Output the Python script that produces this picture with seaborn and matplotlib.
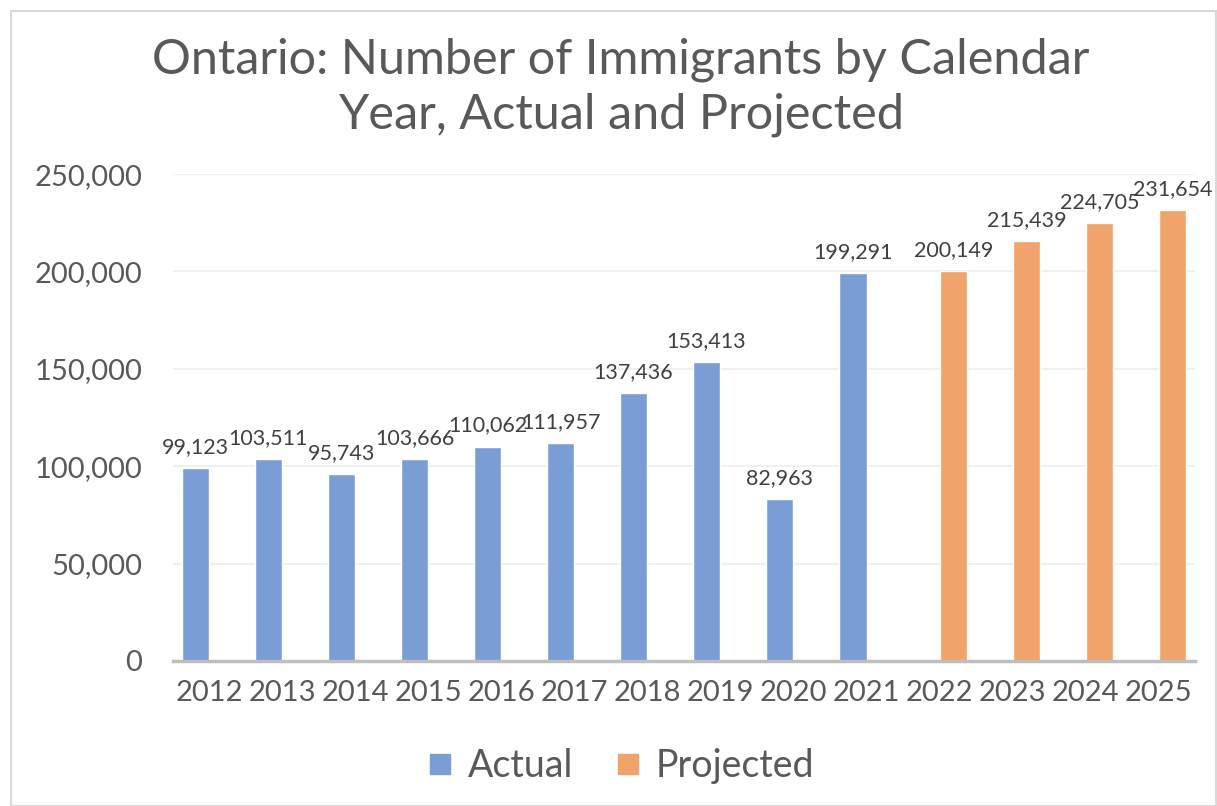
import matplotlib
matplotlib.use("Agg")
import matplotlib.pyplot as plt
import seaborn as sns
import pandas as pd
from matplotlib.patches import Rectangle
from matplotlib.lines import Line2D

years = ["2012", "2013", "2014", "2015", "2016", "2017", "2018", "2019",
         "2020", "2021", "2022", "2023", "2024", "2025"]
actual_years = years[:10]
actual_values = [99123, 103511, 95743, 103666, 110062, 111957, 137436, 153413, 82963, 199291]
projected_years = years[10:]
projected_values = [200149, 215439, 224705, 231654]
series_names = ["Actual", "Projected"]
colors = ["#7A9DD6", "#F0A46C"]
yticks = [0, 50000, 100000, 150000, 200000, 250000]

df = pd.concat([
    pd.DataFrame({"Year": actual_years, "Value": actual_values, "Series": "Actual"}),
    pd.DataFrame({"Year": projected_years, "Value": projected_values, "Series": "Projected"}),
], ignore_index=True)

sns.set_theme(style="white")
plt.rcParams["font.family"] = ["Lato", "DejaVu Sans"]

fig = plt.figure(figsize=(12.17, 8.06), dpi=100)
ax = fig.add_axes([0.142, 0.18, 0.84, 0.604])

sns.barplot(data=df, x="Year", y="Value", hue="Series", order=years,
            hue_order=series_names, palette=colors, width=0.76, dodge=True,
            ax=ax, errorbar=None, saturation=1, legend=False)

for cont in ax.containers:
    vals = [b.get_height() for b in cont]
    ax.bar_label(cont, labels=[f"{v:,.0f}" for v in vals], padding=8,
                 fontsize=15.5, color="#404040")

ax.set_ylim(0, 250000)
ax.set_yticks(yticks)
ax.set_yticklabels([f"{v:,}" for v in yticks])
ax.set_xlim(-0.5, len(years) - 0.5)
ax.yaxis.grid(True, color="#EDEDED", linewidth=1.2)
ax.set_axisbelow(True)
for s in ["top", "right", "left"]:
    ax.spines[s].set_visible(False)
ax.spines["bottom"].set_color("#BFBFBF")
ax.spines["bottom"].set_linewidth(2.5)
ax.tick_params(axis="both", length=0, labelsize=21, colors="#595959")
ax.tick_params(axis="x", pad=14)
ax.tick_params(axis="y", pad=22)
ax.set_xlabel("")
ax.set_ylabel("")

fig.text(0.51, 0.892, "Ontario: Number of Immigrants by Calendar\nYear, Actual and Projected",
         ha="center", va="center", fontsize=35, color="#595959", linespacing=1.3)

handles = [Line2D([0], [0], marker="s", linestyle="none", markersize=15,
                  markerfacecolor=c, markeredgecolor=c) for c in colors]
fig.legend(handles, series_names, loc="center", bbox_to_anchor=(0.51, 0.05),
           ncol=2, frameon=False, fontsize=27, labelcolor="#595959",
           handlelength=0.7, handletextpad=0.4, columnspacing=1.1)

fig.add_artist(Rectangle((0.009, 0.0), 0.99, 0.986, transform=fig.transFigure,
                         fill=False, edgecolor="#D9D9D9", linewidth=1.5))

fig.savefig("out.png", dpi=100)
